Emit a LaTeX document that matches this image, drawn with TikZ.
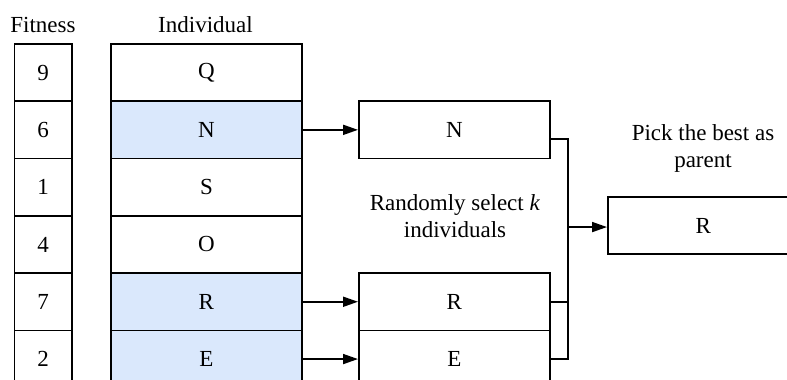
\documentclass[tikz,border=0pt]{standalone}
\usepackage{fontspec}
\setmainfont{Liberation Serif}
\usetikzlibrary{arrows.meta}
\definecolor{selfill}{HTML}{DAE8FC}
\begin{document}
\begin{tikzpicture}[x=1pt,y=-1pt,
  every node/.style={font=\fontsize{23}{27}\selectfont},
  cell/.style={draw=black,line width=1.8pt,inner sep=0pt,anchor=north west,minimum height=57.3pt},
  fitcell/.style={cell,minimum width=57.5pt},
  indcell/.style={cell,minimum width=191pt},
  selcell/.style={indcell,fill=selfill},
  boxcell/.style={cell,minimum width=191pt,fill=white},
  lbl/.style={align=center,inner sep=0pt},
  conn/.style={line width=1.8pt},
  arr/.style={conn,-{Triangle[length=15pt,width=10pt]}}]
\useasboundingbox (0,0) rectangle (787,380);
\clip (0,0) rectangle (787,380);
% headers
\node[lbl] (hfit) at (43,25) {Fitness};
\node[lbl] (hind) at (205.5,25) {Individual};
% fitness column
\node[fitcell] (f1) at (13.5,43.0) {9};
\node[fitcell] (f2) at (13.5,100.3) {6};
\node[fitcell] (f3) at (13.5,157.6) {1};
\node[fitcell] (f4) at (13.5,214.9) {4};
\node[fitcell] (f5) at (13.5,272.2) {7};
\node[fitcell] (f6) at (13.5,329.5) {2};
% individual column
\node[indcell] (i1) at (110,43.0) {Q};
\node[selcell] (i2) at (110,100.3) {N};
\node[indcell] (i3) at (110,157.6) {S};
\node[indcell] (i4) at (110,214.9) {O};
\node[selcell] (i5) at (110,272.2) {R};
\node[selcell] (i6) at (110,329.5) {E};
% selected boxes
\node[boxcell] (sN) at (358,100.3) {N};
\node[boxcell] (sR) at (358,272.2) {R};
\node[boxcell] (sE) at (358,329.5) {E};
% best box
\node[boxcell] (best) at (607,196) {R};
% labels
\node[lbl] (lsel) at (455,216) {Randomly select \textit{k}\\individuals};
\node[lbl] (lbest) at (703,148) {Pick the best as\\parent};
% connectors
\draw[arr] (i2.east) -- (sN.west);
\draw[arr] (i5.east) -- (sR.west);
\draw[arr] (i6.east) -- (sE.west);
\coordinate (bus) at (568,0);
\draw[conn] ([yshift=-9pt]sN.east) -| (bus |- sE.east) -- (sE.east);
\draw[conn] (sR.east) -- (bus |- sR.east);
\draw[arr] ([yshift=-1.5pt]bus |- best.west) -- ([yshift=-1.5pt]best.west);
\end{tikzpicture}
\end{document}
